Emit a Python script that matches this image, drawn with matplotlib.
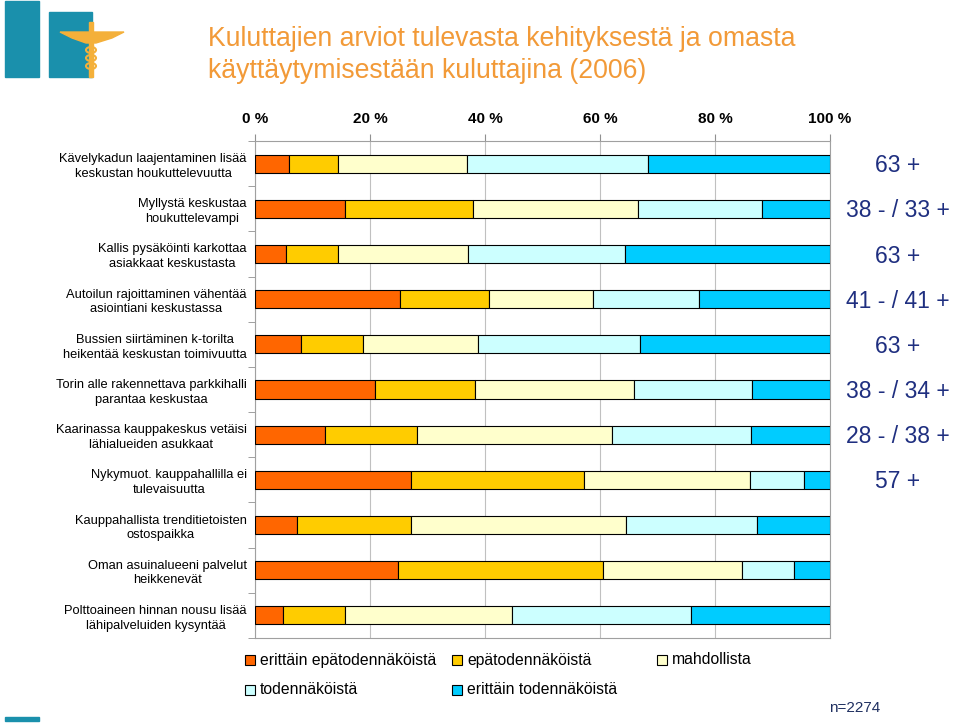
import numpy as np
import matplotlib
matplotlib.use('Agg')
import matplotlib.pyplot as plt
from matplotlib.patches import Rectangle, Polygon, Ellipse

plt.rcParams['font.family'] = ['Liberation Sans', 'DejaVu Sans']

# data
categories = [
    'Kävelykadun laajentaminen lisää\nkeskustan houkuttelevuutta',
    'Myllystä keskustaa\nhoukuttelevampi',
    'Kallis pysäköinti karkottaa\nasiakkaat keskustasta',
    'Autoilun rajoittaminen vähentää\nasiointiani keskustassa',
    'Bussien siirtäminen k-torilta\nheikentää keskustan toimivuutta',
    'Torin alle rakennettava parkkihalli\nparantaa keskustaa',
    'Kaarinassa kauppakeskus vetäisi\nlähialueiden asukkaat',
    'Nykymuot. kauppahallilla ei\ntulevaisuutta',
    'Kauppahallista trenditietoisten\nostospaikka',
    'Oman asuinalueeni palvelut\nheikkenevät',
    'Polttoaineen hinnan nousu lisää\nlähipalveluiden kysyntää',
]
series = ['erittäin epätodennäköistä', 'epätodennäköistä', 'mahdollista',
          'todennäköistä', 'erittäin todennäköistä']
erittain_epa = [5.9, 15.7, 5.4, 25.3, 8.0, 20.8, 12.2, 27.1, 7.3, 24.8, 4.9]
epa = [8.6, 22.2, 9.1, 15.4, 10.8, 17.4, 15.9, 30.2, 19.9, 35.7, 10.8]
mahdollista = [22.4, 28.7, 22.5, 18.0, 20.0, 27.7, 33.9, 28.8, 37.3, 24.2, 29.0]
todennakoista = [31.5, 21.6, 27.3, 18.6, 28.1, 20.6, 24.3, 9.4, 22.8, 9.1, 31.2]
erittain_tod = [31.6, 11.8, 35.7, 22.7, 33.1, 13.5, 13.7, 4.5, 12.7, 6.2, 24.1]
right_labels = ['63 +', '38 - / 33 +', '63 +', '41 - / 41 +', '63 +',
                '38 - / 34 +', '28 - / 38 +', '57 +']
xticks = [0, 20, 40, 60, 80, 100]
colors = ['#FF6600', '#FFCC00', '#FFFFCC', '#CCFFFF', '#00CCFF']

fig = plt.figure(figsize=(9.6, 7.24), dpi=100)

# decoration layer in pixel coords (logo, legend, notes)
deco = fig.add_axes([0, 0, 1, 1], zorder=0)
deco.set_xlim(0, 960)
deco.set_ylim(724, 0)
deco.axis('off')
teal = '#1A90AC'
gold = '#F4B03A'
deco.add_patch(Rectangle((5, 1), 34, 76, color=teal))
deco.add_patch(Rectangle((49, 12), 43, 65, color=teal))
deco.add_patch(Polygon([(60, 32), (124, 32), (112, 38), (96, 43), (86, 43), (72, 38)],
                       closed=True, color=gold))
deco.add_patch(Rectangle((89, 22), 4, 55, color=gold))
for yy in (50, 58, 66):
    deco.add_patch(Ellipse((91, yy), 10, 6, fill=False, ec=gold, lw=1.5))
deco.add_patch(Rectangle((5, 717), 34, 4, color=teal))

fig.text(208 / 960, 1 - 39 / 724, 'Kuluttajien arviot tulevasta kehityksestä ja omasta',
         fontsize=19.2, color='#F29A38', va='center', ha='left')
fig.text(208 / 960, 1 - 71 / 724, 'käyttäytymisestään kuluttajina (2006)',
         fontsize=19.2, color='#F29A38', va='center', ha='left')

ax = fig.add_axes([255 / 960, 1 - 638 / 724, 575 / 960, 497 / 724], zorder=1)
ax.patch.set_alpha(0)
y = np.arange(len(categories))
data = [erittain_epa, epa, mahdollista, todennakoista, erittain_tod]
left = np.zeros(len(categories))
for vals, c, name in zip(data, colors, series):
    vals = np.array(vals)
    ax.barh(y, vals, left=left, height=0.4, color=c, edgecolor='black',
            linewidth=0.8, label=name, zorder=3)
    left += vals

ax.set_xlim(0, 100)
ax.set_ylim(len(categories) - 0.5, -0.5)
ax.xaxis.tick_top()
ax.set_xticks(xticks)
ax.set_xticklabels(['%d %%' % t for t in xticks], fontsize=11, fontweight='bold')
ax.tick_params(axis='x', length=5, color='#909090', pad=6)
ax.grid(axis='x', color='#C0C0C0', linewidth=0.8, zorder=0)

ax.set_yticks(y)
ax.set_yticklabels(categories, fontsize=9.3, multialignment='center', linespacing=1.3)
ax.set_yticks(np.arange(len(categories) + 1) - 0.5, minor=True)
ax.tick_params(axis='y', which='major', length=0, pad=6)
ax.tick_params(axis='y', which='minor', length=5, color='#909090')
for s in ax.spines.values():
    s.set_color('#A0A0A0')
    s.set_linewidth(0.8)

for i, lab in enumerate(right_labels):
    ax.annotate(lab, xy=(1, i), xycoords=('axes fraction', 'data'),
                xytext=(49, -1.5), textcoords='offset points',
                ha='center', va='center', fontsize=16.5, color='#1F2F80')

# legend
leg_pos = [(245, 660), (452, 660), (657, 660), (245, 690), (452, 690)]
for (lx, ly), c, name in zip(leg_pos, colors, series):
    deco.add_patch(Rectangle((lx, ly - 5), 10, 10, facecolor=c, edgecolor='black', lw=0.8))
    deco.text(lx + 15, ly, name, fontsize=11.3, va='center', ha='left')

deco.text(855, 708, 'n=2274', fontsize=11, color='#1F2F60', va='center', ha='center')

fig.savefig('out.png', dpi=100)
